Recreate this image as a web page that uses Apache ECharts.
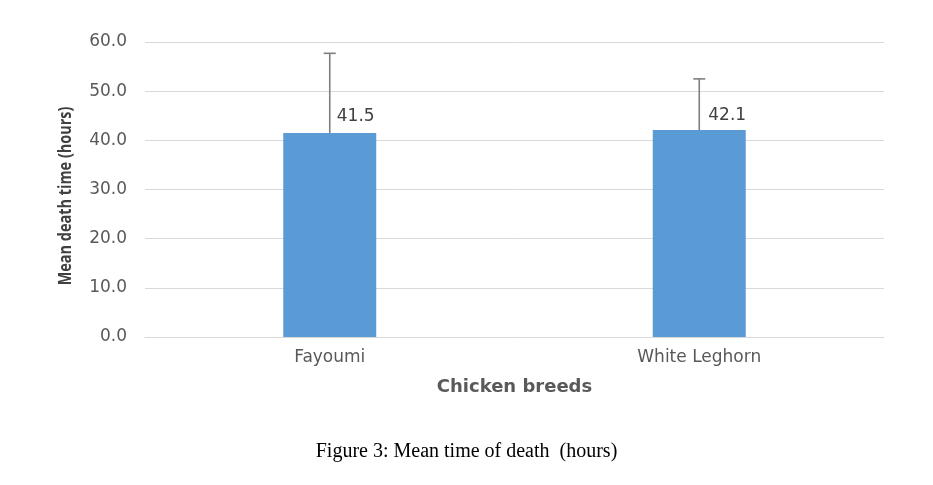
<!DOCTYPE html>
<html>
<head>
<meta charset="utf-8">
<script src="https://cdn.jsdelivr.net/npm/echarts@6/dist/echarts.min.js"></script>
<style>
  html, body { margin: 0; padding: 0; background: #fff; }
  #main { width: 933px; height: 485px; }
</style>
</head>
<body>
<div id="main"></div>
<script>
// chicken breeds and mean death time (hours)
const breeds = ["Fayoumi", "White Leghorn"];
const meanTime = [41.5, 42.1];
// top of the upper error bar
const errorTop = [57.7, 52.5];
const yTicks = [0, 60, 10];

const chart = echarts.init(document.getElementById("main"));

const labelOffsets = [[7, -16], [9, -14]];

const option = {
    animation: false,
    grid: { left: 145, right: 49, top: 42, bottom: 148 },
    title: {
        text: "Figure 3: Mean time of death  (hours)",
        left: "center",
        top: 437,
        textStyle: {
            fontFamily: "Liberation Serif",
            fontWeight: "normal",
            fontSize: 20,
            color: "#000"
        }
    },
    // y axis title, squeezed along its length like the narrow bold face in the original
    graphic: [
        {
            type: "text",
            x: 66,
            y: 196,
            rotation: Math.PI / 2,
            scaleX: 0.85,
            style: {
                text: "Mean death time (hours)",
                fontFamily: "Open Sans",
                fontWeight: "bold",
                fontSize: 17,
                fill: "#404040",
                align: "center",
                verticalAlign: "middle"
            }
        }
    ],
    xAxis: {
        type: "category",
        data: breeds,
        name: "Chicken breeds",
        nameLocation: "middle",
        nameGap: 41,
        nameTextStyle: {
            fontFamily: "DejaVu Sans",
            fontWeight: "bold",
            fontSize: 18,
            color: "#595959"
        },
        axisLine: { lineStyle: { color: "#d9d9d9", width: 1 } },
        axisTick: { show: false },
        axisLabel: {
            margin: 12,
            fontFamily: "DejaVu Sans",
            fontSize: 17,
            color: "#595959"
        }
    },
    yAxis: {
        type: "value",
        min: yTicks[0],
        max: yTicks[1],
        interval: yTicks[2],
        axisLine: { show: false },
        axisTick: { show: false },
        splitLine: { lineStyle: { color: "#d9d9d9", width: 1 } },
        axisLabel: {
            margin: 18,
            fontFamily: "DejaVu Sans",
            fontSize: 17,
            color: "#595959",
            formatter: (v) => v.toFixed(1)
        }
    },
    series: [
        {
            type: "bar",
            barWidth: 93,
            itemStyle: { color: "#5b9bd5" },
            data: meanTime.map((v, i) => ({
                value: v,
                label: {
                    show: true,
                    position: ["50%", 0],
                    offset: labelOffsets[i],
                    align: "left",
                    verticalAlign: "middle",
                    fontFamily: "DejaVu Sans",
                    fontSize: 17,
                    color: "#404040",
                    formatter: (p) => p.value.toFixed(1)
                }
            }))
        },
        {
            type: "custom",
            z: 5,
            data: meanTime.map((v, i) => [i, v, errorTop[i]]),
            renderItem: function (params, api) {
                const base = api.coord([api.value(0), api.value(1)]);
                const top = api.coord([api.value(0), api.value(2)]);
                const half = 6;
                const style = { stroke: "#7f7f7f", lineWidth: 1.6 };
                return {
                    type: "group",
                    children: [
                        { type: "line", shape: { x1: base[0], y1: base[1], x2: top[0], y2: top[1] }, style: style },
                        { type: "line", shape: { x1: top[0] - half, y1: top[1], x2: top[0] + half, y2: top[1] }, style: style }
                    ]
                };
            }
        }
    ]
};

chart.setOption(option);
</script>
</body>
</html>
